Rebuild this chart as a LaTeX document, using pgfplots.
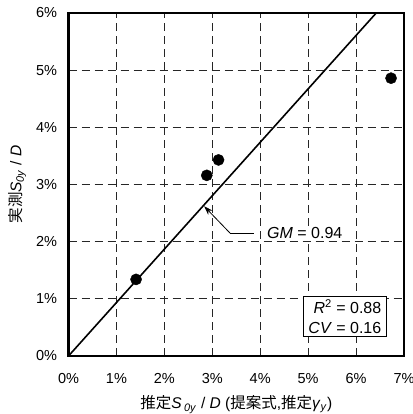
\documentclass[border=0pt]{standalone}
\usepackage{pgfplots}
\pgfplotsset{compat=1.18}
\usepackage{fontspec}
\setmainfont{Liberation Sans}
\newfontfamily\cjk{Noto Sans CJK JP}
\usetikzlibrary{arrows.meta}
\begin{document}
\begin{tikzpicture}
\begin{axis}[
  scale only axis,
  width=335.5bp, height=343bp,
  xmin=0, xmax=7, ymin=0, ymax=6,
  xtick={0,1,...,7}, ytick={0,1,...,6},
  xticklabel={\pgfmathprintnumber{\tick}\%},
  yticklabel={\pgfmathprintnumber{\tick}\%},
  /pgf/number format/assume math mode=true,
  tick style={draw=none},
  ticklabel style={font=\fontsize{14.5bp}{16bp}\selectfont},
  xticklabel style={yshift=-14bp},
  yticklabel style={xshift=-8bp},
  grid=major,
  grid style={black!85, line width=0.8bp, dash pattern=on 8bp off 5bp},
  axis line style={line width=2bp},
  xlabel={{\cjk 推定}\textit{S}\,\textsubscript{\textit{0y}} / \textit{D} ({\cjk 提案式},{\cjk 推定}\textit{γ}\textsubscript{\textit{y}})},
  ylabel={{\cjk 実測}\textit{S}\textsubscript{\textit{0y}} / \textit{D}},
  label style={font=\fontsize{15.5bp}{17bp}\selectfont},
  xlabel style={yshift=-5bp},
  ylabel style={yshift=3bp},
  clip=true,
]
\coordinate (sw) at (rel axis cs:0,0);
\coordinate (ne) at (rel axis cs:1,1);
\addplot[black, line width=1.6bp] coordinates {(0,0) (6.42,6)};
\addplot[only marks, mark=*, mark size=5.6bp, black] coordinates {
(1.41,1.34) (2.885,3.16) (3.13,3.43) (6.73,4.86)};
\draw[line width=0.8bp] (axis cs:3.87,2.15) -- (axis cs:3.37,2.15);
\draw[line width=0.8bp, -{Stealth[length=9bp,width=6bp]}] (axis cs:3.37,2.15) -- (axis cs:2.83,2.62);
\node[anchor=west, fill=white, inner sep=1bp, font=\fontsize{16bp}{18bp}\selectfont] at (axis cs:4.12,2.155) {\textit{GM} = 0.94};
\node[anchor=south east, draw=black, line width=0.9bp, fill=white, align=right, inner xsep=5bp, inner ysep=3bp, font=\fontsize{16bp}{19.5bp}\selectfont] at (axis cs:6.64,0.337) {\textit{R}\textsuperscript{2} = 0.88\\\textit{CV} = 0.16};
\end{axis}
\pgfresetboundingbox
\path[use as bounding box] ([shift={(-68.5bp,-58bp)}]sw) rectangle ([shift={(9bp,13bp)}]ne);
\end{tikzpicture}
\end{document}
